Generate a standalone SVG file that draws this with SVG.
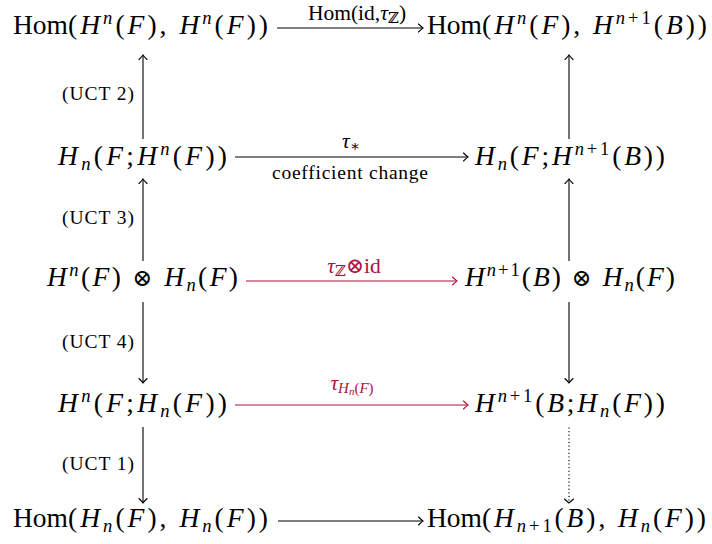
<svg xmlns="http://www.w3.org/2000/svg" width="712" height="544" viewBox="0 0 712 544">
<defs>
<style>
.m{font-family:"Liberation Serif","DejaVu Serif",serif;font-size:27.5px;fill:#000}
.l{font-family:"Liberation Serif","DejaVu Serif",serif;font-size:19.5px;fill:#000}
.lb{font-size:21.5px}
.i{font-style:italic}
.s{font-size:18.5px}
.ss{font-size:15px}
.sss{font-size:11px}
.op{font-size:24px}
.red{fill:#b0103a}
.ln{stroke:#000;stroke-width:1.1;fill:none}
.lr{stroke:#b0103a;stroke-width:1.1;fill:none}
.dot{stroke:#000;stroke-width:1.3;fill:none;stroke-dasharray:0.1 3.5;stroke-linecap:round}
</style>
<marker id="ah" markerWidth="12" markerHeight="12" refX="0" refY="0" viewBox="-6 -6 12 12" orient="auto" markerUnits="userSpaceOnUse">
<path d="M-4.5,-4 Q-1.2,-0.8 0,0 Q-1.2,0.8 -4.5,4" stroke="#000" stroke-width="1.1" fill="none" stroke-linecap="round"/>
</marker>
<marker id="ahr" markerWidth="12" markerHeight="12" refX="0" refY="0" viewBox="-6 -6 12 12" orient="auto" markerUnits="userSpaceOnUse">
<path d="M-4.5,-4 Q-1.2,-0.8 0,0 Q-1.2,0.8 -4.5,4" stroke="#b0103a" stroke-width="1.1" fill="none" stroke-linecap="round"/>
</marker>
</defs>

<g id="n1"><text class="m" x="13" y="34">Hom</text><text class="m" x="68" y="34" textLength="200">(<tspan class="i">H</tspan><tspan class="i s" dy="-10">n</tspan><tspan dy="10">(</tspan><tspan class="i">F</tspan>), <tspan class="i">H</tspan><tspan class="i s" dy="-10">n</tspan><tspan dy="10">(</tspan><tspan class="i">F</tspan>))</text></g>
<g id="n2"><text class="m" x="427" y="34">Hom</text><text class="m" x="482" y="34" textLength="225">(<tspan class="i">H</tspan><tspan class="i s" dy="-10">n</tspan><tspan dy="10">(</tspan><tspan class="i">F</tspan>), <tspan class="i">H</tspan><tspan class="s" dy="-10"><tspan class="i">n</tspan>+1</tspan><tspan dy="10">(</tspan><tspan class="i">B</tspan>))</text></g>
<g id="n3"><text class="m" x="58" y="165" textLength="169"><tspan class="i">H</tspan><tspan class="i s" dy="5">n</tspan><tspan dy="-5">(</tspan><tspan class="i">F</tspan>;<tspan class="i">H</tspan><tspan class="i s" dy="-10">n</tspan><tspan dy="10">(</tspan><tspan class="i">F</tspan>))</text></g>
<g id="n4"><text class="m" x="475" y="165" textLength="190"><tspan class="i">H</tspan><tspan class="i s" dy="5">n</tspan><tspan dy="-5">(</tspan><tspan class="i">F</tspan>;<tspan class="i">H</tspan><tspan class="s" dy="-10"><tspan class="i">n</tspan>+1</tspan><tspan dy="10">(</tspan><tspan class="i">B</tspan>))</text></g>
<g id="n5"><text class="m" x="47" y="286" textLength="191"><tspan class="i">H</tspan><tspan class="i s" dy="-10">n</tspan><tspan dy="10">(</tspan><tspan class="i">F</tspan>) <tspan class="op">⊗</tspan> <tspan class="i">H</tspan><tspan class="i s" dy="5">n</tspan><tspan dy="-5">(</tspan><tspan class="i">F</tspan>)</text></g>
<g id="n6"><text class="m" x="465" y="286" textLength="210"><tspan class="i">H</tspan><tspan class="s" dy="-10"><tspan class="i">n</tspan>+1</tspan><tspan dy="10">(</tspan><tspan class="i">B</tspan>) <tspan class="op">⊗</tspan> <tspan class="i">H</tspan><tspan class="i s" dy="5">n</tspan><tspan dy="-5">(</tspan><tspan class="i">F</tspan>)</text></g>
<g id="n7"><text class="m" x="58" y="412" textLength="169"><tspan class="i">H</tspan><tspan class="i s" dy="-10">n</tspan><tspan dy="10">(</tspan><tspan class="i">F</tspan>;<tspan class="i">H</tspan><tspan class="i s" dy="5">n</tspan><tspan dy="-5">(</tspan><tspan class="i">F</tspan>))</text></g>
<g id="n8"><text class="m" x="475" y="412" textLength="190"><tspan class="i">H</tspan><tspan class="s" dy="-10"><tspan class="i">n</tspan>+1</tspan><tspan dy="10">(</tspan><tspan class="i">B</tspan>;<tspan class="i">H</tspan><tspan class="i s" dy="5">n</tspan><tspan dy="-5">(</tspan><tspan class="i">F</tspan>))</text></g>
<g id="n9"><text class="m" x="13" y="527">Hom</text><text class="m" x="68" y="527" textLength="200">(<tspan class="i">H</tspan><tspan class="i s" dy="5">n</tspan><tspan dy="-5">(</tspan><tspan class="i">F</tspan>), <tspan class="i">H</tspan><tspan class="i s" dy="5">n</tspan><tspan dy="-5">(</tspan><tspan class="i">F</tspan>))</text></g>
<g id="n10"><text class="m" x="427" y="527">Hom</text><text class="m" x="482" y="527" textLength="224">(<tspan class="i">H</tspan><tspan class="s" dy="5"><tspan class="i">n</tspan>+1</tspan><tspan dy="-5">(</tspan><tspan class="i">B</tspan>), <tspan class="i">H</tspan><tspan class="i s" dy="5">n</tspan><tspan dy="-5">(</tspan><tspan class="i">F</tspan>))</text></g>

<g id="connectors">
<line class="ln" x1="277" y1="28" x2="423" y2="28" marker-end="url(#ah)"/>
<line class="ln" x1="235" y1="157" x2="468" y2="157" marker-end="url(#ah)"/>
<line class="lr" x1="246" y1="281" x2="457" y2="281" marker-end="url(#ahr)"/>
<line class="lr" x1="235" y1="405" x2="468" y2="405" marker-end="url(#ahr)"/>
<line class="ln" x1="278" y1="521" x2="423" y2="521" marker-end="url(#ah)"/>

<line class="ln" x1="143" y1="139" x2="143" y2="55" marker-end="url(#ah)"/>
<line class="ln" x1="143" y1="261" x2="143" y2="179" marker-end="url(#ah)"/>
<line class="ln" x1="143" y1="302" x2="143" y2="383" marker-end="url(#ah)"/>
<line class="ln" x1="143" y1="427" x2="143" y2="503" marker-end="url(#ah)"/>

<line class="ln" x1="569" y1="139" x2="569" y2="55" marker-end="url(#ah)"/>
<line class="ln" x1="569" y1="261" x2="569" y2="179" marker-end="url(#ah)"/>
<line class="ln" x1="569" y1="302" x2="569" y2="383" marker-end="url(#ah)"/>
<line class="dot" x1="569" y1="428" x2="569" y2="502"/>
<path d="M564.5,499 Q567.8,502.2 569,503 Q570.2,502.2 573.5,499" stroke="#000" stroke-width="1.1" fill="none" stroke-linecap="round"/>

<text class="l lb" x="357" y="20" text-anchor="middle">Hom(id,<tspan class="i">τ</tspan><tspan class="ss" dy="3">ℤ</tspan><tspan dy="-3">)</tspan></text>
<text class="l lb" x="351" y="148" text-anchor="middle"><tspan class="i">τ</tspan><tspan class="ss" dy="3">∗</tspan></text>
<text class="l" x="350" y="179" text-anchor="middle" textLength="156">coefficient change</text>
<text class="l lb red" x="354" y="273" text-anchor="middle"><tspan class="i">τ</tspan><tspan class="ss" dy="3">ℤ</tspan><tspan dy="-3">⊗id</tspan></text>
<text class="l lb red" x="352" y="390" text-anchor="middle"><tspan class="i">τ</tspan><tspan class="ss i" dy="3">H</tspan><tspan class="sss i" dy="2">n</tspan><tspan class="ss" dy="-2">(</tspan><tspan class="ss i">F</tspan><tspan class="ss">)</tspan></text>

<text class="l" x="134" y="100" text-anchor="end" textLength="72">(UCT 2)</text>
<text class="l" x="134" y="224" text-anchor="end" textLength="72">(UCT 3)</text>
<text class="l" x="134" y="348" text-anchor="end" textLength="72">(UCT 4)</text>
<text class="l" x="134" y="470" text-anchor="end" textLength="72">(UCT 1)</text>
</g>
</svg>
